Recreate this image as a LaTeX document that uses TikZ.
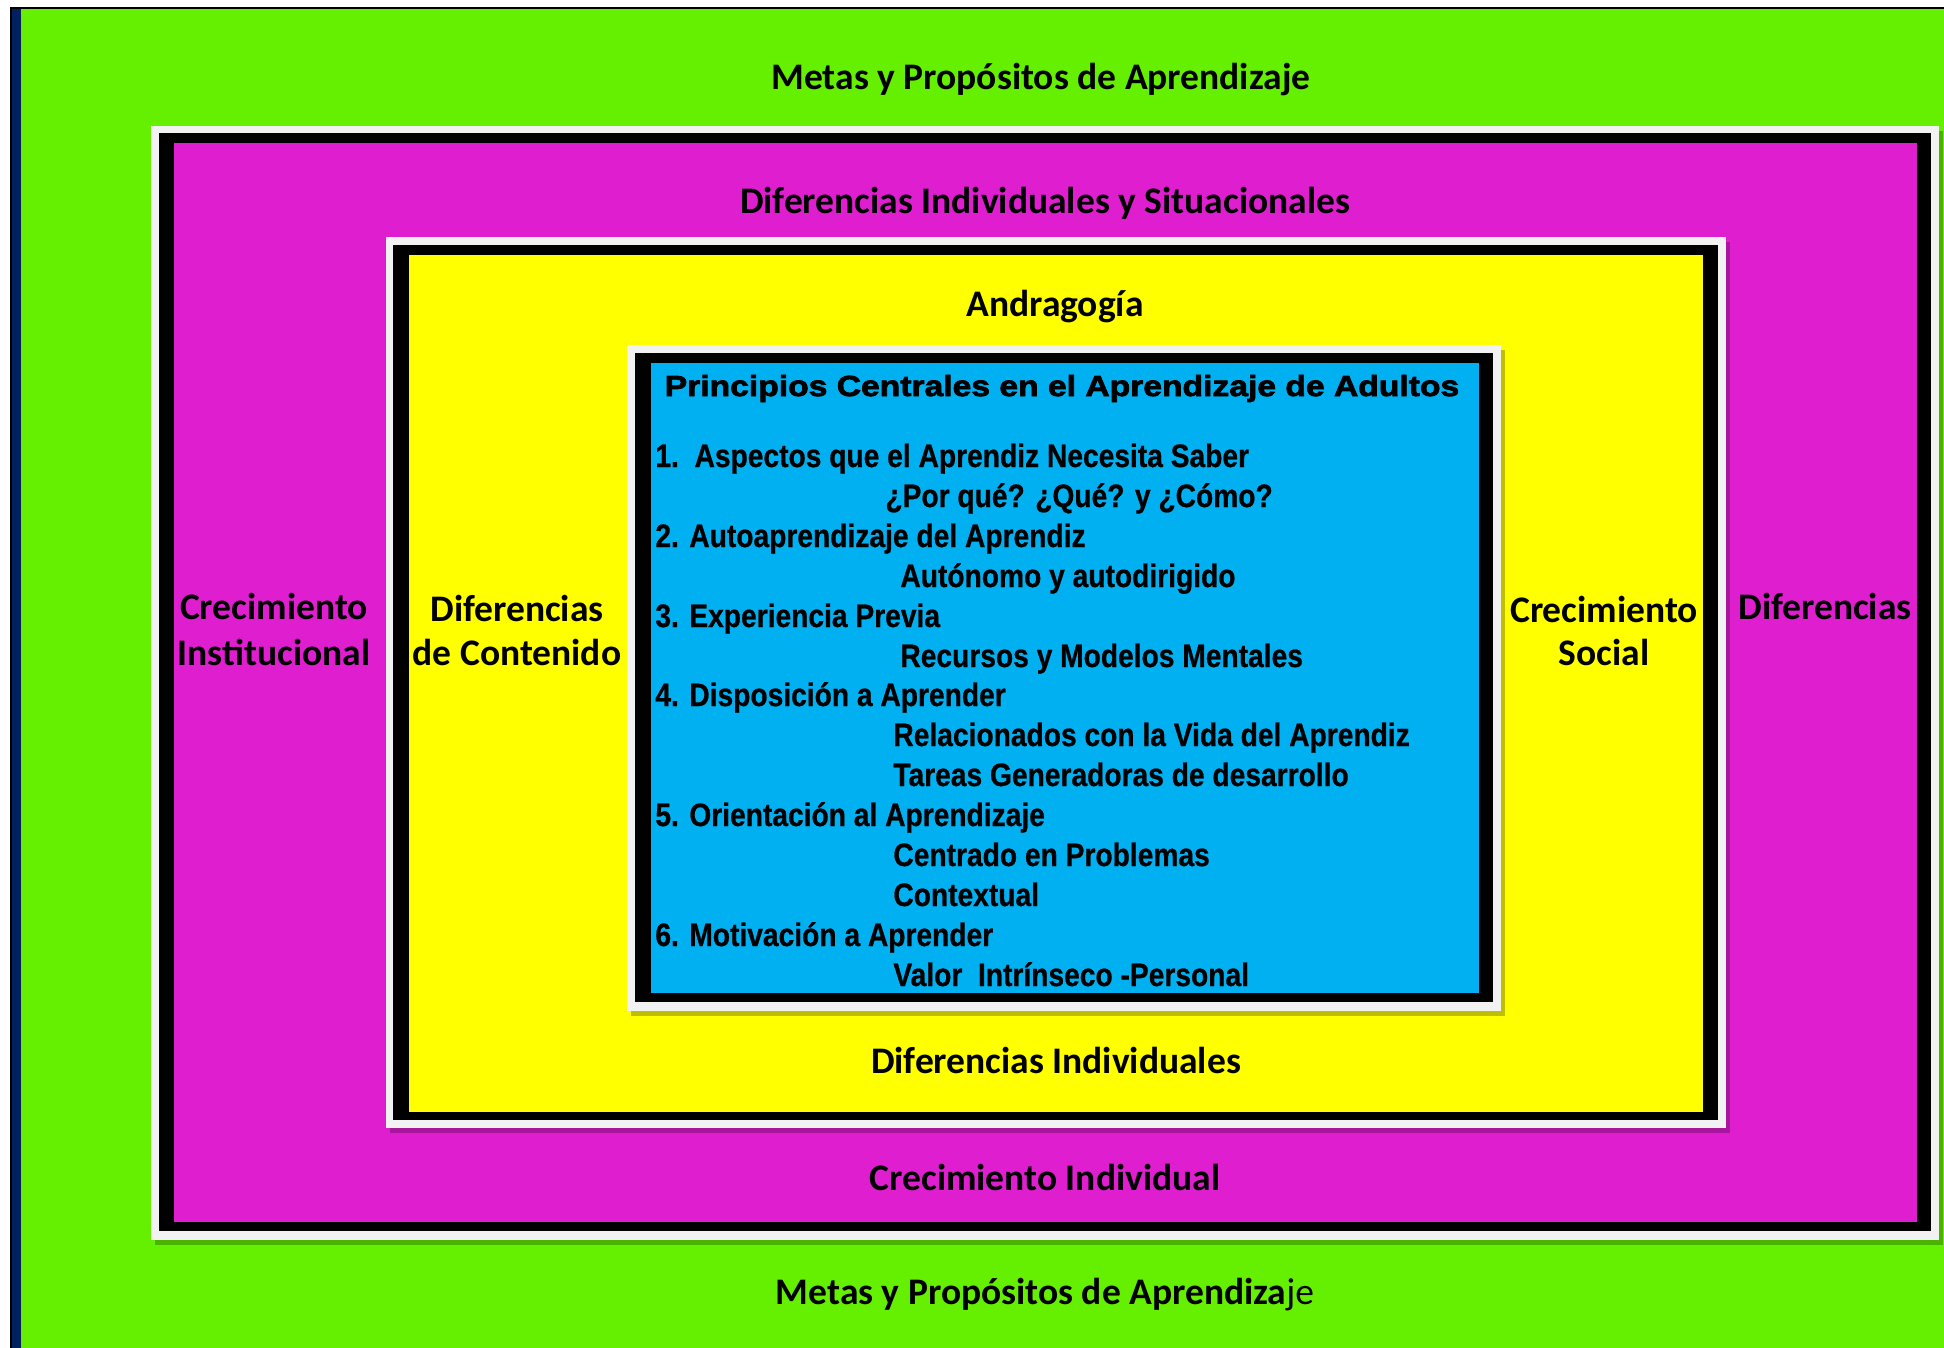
\documentclass[tikz,border=0pt]{standalone}
\usepackage{fontspec}
\setmainfont{Carlito}
\newfontfamily\listfont[FakeStretch=0.87,FakeBold=0.6]{Liberation Sans}
\newfontfamily\titlefont[FakeStretch=1.16,FakeBold=2.5]{Liberation Sans}
\definecolor{bggreen}{RGB}{100,240,0}
\definecolor{framemag}{RGB}{223,30,207}
\definecolor{frameyel}{RGB}{255,255,0}
\definecolor{frameblue}{RGB}{0,176,240}
\definecolor{navyedge}{RGB}{0,32,96}
\definecolor{framewhite}{RGB}{242,242,242}
\begin{document}
\begin{tikzpicture}[x=0.5pt,y=-0.5pt,
  lbl/.style={inner sep=0pt, anchor=base, font=\fontsize{18.75}{22}\selectfont\bfseries},
  ttl/.style={inner sep=0pt, anchor=base, font=\titlefont\fontsize{14.5}{17}\selectfont\bfseries},
  itm/.style={inner sep=0pt, anchor=base west, font=\listfont\fontsize{16.2}{19}\selectfont\bfseries},
  shadow/.style={fill=black, opacity=0.25}]
\useasboundingbox (0,0) rectangle (1944,1348);
% page background and outer edge
\fill[white] (0,0) rectangle (1944,1348);
\fill[black] (10,7) rectangle (1944,1348);
\fill[navyedge] (12,9) rectangle (21,1348);
\fill[bggreen] (21,9) rectangle (1944,1348);
% frame 1 (magenta)
\fill[shadow] (155,131) rectangle (1943,1245);
\fill[framewhite] (151,126) rectangle (1939,1240);
\fill[black] (159,133) rectangle (1931,1231);
\fill[framemag] (174,143) rectangle (1917,1222);
% frame 2 (yellow)
\fill[shadow] (390,242) rectangle (1730,1133);
\fill[framewhite] (386,237) rectangle (1726,1128);
\fill[black] (393,245) rectangle (1718,1120);
\fill[frameyel] (409,255) rectangle (1703,1112);
% frame 3 (blue)
\fill[shadow] (631,350) rectangle (1505,1016);
\fill[framewhite] (627,345) rectangle (1501,1011);
\fill[black] (635,353) rectangle (1493,1002);
\fill[frameblue] (651,363) rectangle (1479,993);
% labels
\node[lbl] (metasTop) at (1041,90) {Metas y Propósitos de Aprendizaje};
\node[lbl] (difIndSit) at (1045,214) {Diferencias Individuales y Situacionales};
\node[lbl] (andra) at (1055,317) {Andragogía};
\node[lbl] (crecInstA) at (274,619) {Crecimiento};
\node[lbl] (crecInstB) at (274,665) {Institucional};
\node[lbl] (difContA) at (517,621) {Diferencias};
\node[lbl] (difContB) at (517,665) {de Contenido};
\node[lbl] (crecSocA) at (1604,622) {Crecimiento};
\node[lbl] (crecSocB) at (1604,665) {Social};
\node[lbl] (difRight) at (1825,619) {Diferencias};
\node[lbl] (difInd) at (1056,1073) {Diferencias Individuales};
\node[lbl] (crecInd) at (1045,1190) {Crecimiento Individual};
\node[lbl] (metasBot) at (1045,1304) {Metas y Propósitos de Aprendiza{\mdseries je}};
% central box
\node[ttl] (title) at (1062,396) {Principios Centrales en el Aprendizaje de Adultos};
\node[itm] (l1) at (655,467) {1.\ \ Aspectos que el Aprendiz Necesita Saber};
\node[itm] (l1a) at (885,507) {¿Por qué? ¿Qué? y ¿Cómo?};
\node[itm] (l2) at (655,547) {2. Autoaprendizaje del Aprendiz};
\node[itm] (l2a) at (900,587) {Autónomo y autodirigido};
\node[itm] (l3) at (655,627) {3. Experiencia Previa};
\node[itm] (l3a) at (900,667) {Recursos y Modelos Mentales};
\node[itm] (l4) at (655,706) {4. Disposición a Aprender};
\node[itm] (l4a) at (893,746) {Relacionados con la Vida del Aprendiz};
\node[itm] (l4b) at (893,786) {Tareas Generadoras de desarrollo};
\node[itm] (l5) at (655,826) {5. Orientación al Aprendizaje};
\node[itm] (l5a) at (893,866) {Centrado en Problemas};
\node[itm] (l5b) at (893,906) {Contextual};
\node[itm] (l6) at (655,946) {6. Motivación a Aprender};
\node[itm] (l6a) at (893,986) {Valor\ \ Intrínseco -Personal};
\end{tikzpicture}
\end{document}
